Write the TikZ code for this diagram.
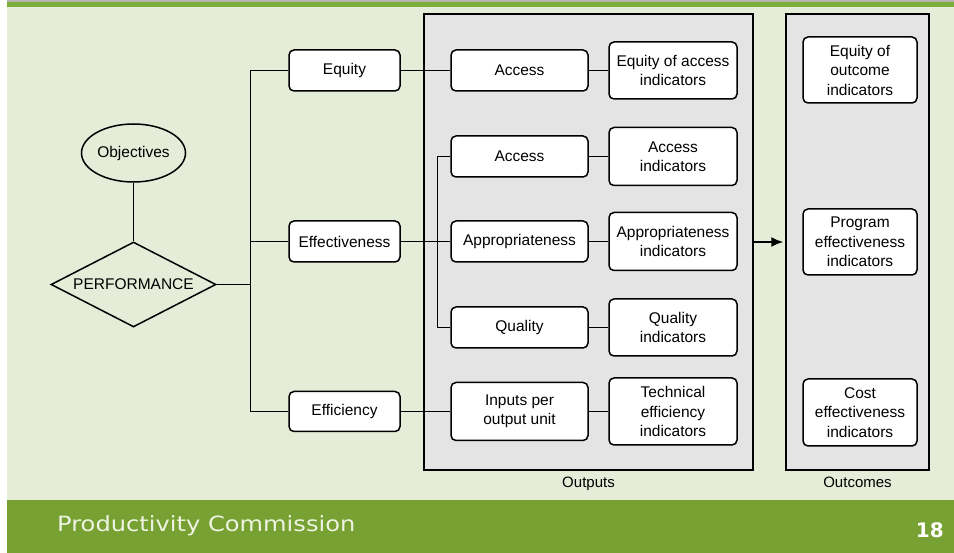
\documentclass[tikz,border=0pt]{standalone}
\usepackage{fontspec}
\setmainfont{Liberation Sans}
\newfontfamily\footfont[FakeStretch=1.15]{DejaVu Sans}
\newfontfamily\pagefont{DejaVu Sans}
\usetikzlibrary{shapes.geometric,arrows.meta}
\definecolor{bg}{HTML}{E5ECD7}
\definecolor{panelgray}{HTML}{E4E4E4}
\definecolor{footgreen}{HTML}{77A132}
\definecolor{bandgreen}{HTML}{7CAE3C}
\definecolor{bandgray}{HTML}{B4B6AE}
\definecolor{foottext}{HTML}{EEF3E2}

\begin{document}
\begin{tikzpicture}[x=1pt,y=-1pt,
  box/.style={draw, line width=1.5pt, fill=white, rounded corners=5pt,
    align=center, inner sep=0pt, font=\fontsize{15.5}{19.5}\selectfont},
  panel/.style={draw, line width=1.5pt, fill=panelgray, inner sep=0pt},
  link/.style={line width=1.6pt},
  caption/.style={font=\fontsize{15}{17}\selectfont, inner sep=0pt}
]
\useasboundingbox (0,0) rectangle (954,553);

% page background, header band and footer bar
\fill[white] (0,0) rectangle (954,553);
\fill[bg] (7,7) rectangle (954,500);
\fill[bandgray] (7,0) rectangle (954,2);
\fill[bandgreen] (7,2) rectangle (954,7);
\fill[footgreen] (7,500) rectangle (954,553);

% grey panels
\node[panel, minimum width=329pt, minimum height=456pt] (outp) at (588.5,242) {};
\node[panel, minimum width=143pt, minimum height=456pt] (outc) at (857.5,242) {};
\node[caption] (outplbl) at (588.5,484) {Outputs};
\node[caption] (outclbl) at (857.5,482) {Outcomes};

% objectives and performance
\node[draw, line width=1.5pt, ellipse, minimum width=104pt, minimum height=58pt,
  inner sep=0pt, font=\fontsize{15.5}{17}\selectfont] (obj) at (133.5,153) {Objectives};
\node[draw, line width=1.5pt, diamond, aspect=2, minimum width=165pt, minimum height=85pt,
  inner sep=0pt, font=\fontsize{15.5}{17}\selectfont] (perf) at (133.5,284.5) {PERFORMANCE};

% dimensions
\node[box, minimum width=111pt, minimum height=41pt] (equity) at (344.5,70.5) {Equity};
\node[box, minimum width=111pt, minimum height=41pt] (effect) at (344.5,241.5) {Effectiveness};
\node[box, minimum width=111pt, minimum height=40pt] (effic) at (344.5,411.5) {Efficiency};

% output measures
\node[box, minimum width=137pt, minimum height=41pt] (acc1) at (519.5,70.5) {Access};
\node[box, minimum width=137pt, minimum height=41pt] (acc2) at (519.5,156.5) {Access};
\node[box, minimum width=137pt, minimum height=41pt] (appr) at (519.5,241.5) {Appropriateness};
\node[box, minimum width=137pt, minimum height=41pt] (qual) at (519.5,327.5) {Quality};
\node[box, minimum width=137pt, minimum height=58pt] (inpt) at (519.5,411.5) {Inputs per\\output unit};

% output indicators
\node[box, minimum width=128pt, minimum height=57pt] (eqacc) at (673,70.5) {Equity of access\\indicators};
\node[box, minimum width=128pt, minimum height=58pt] (accind) at (673,156.5) {Access\\indicators};
\node[box, minimum width=128pt, minimum height=58pt] (apprind) at (673,241.5) {Appropriateness\\indicators};
\node[box, minimum width=128pt, minimum height=57pt] (qualind) at (673,327.5) {Quality\\indicators};
\node[box, minimum width=128pt, minimum height=67pt] (techind) at (673,411.5) {Technical\\efficiency\\indicators};

% outcome indicators
\node[box, minimum width=114pt, minimum height=66pt] (eqout) at (860,70) {Equity of\\outcome\\indicators};
\node[box, minimum width=114pt, minimum height=66pt] (progeff) at (860,242) {Program\\effectiveness\\indicators};
\node[box, minimum width=114pt, minimum height=67pt] (costeff) at (860,412.5) {Cost\\effectiveness\\indicators};

% junction points
\coordinate (trunk) at (250.5,284.5);
\coordinate (inner) at (437.5,241.5);

% connectors
\draw[link] (obj.south) -- (perf.north);
\draw[link] (perf.east) -- (trunk);
\draw[link] (equity.west) -| (trunk) |- (effic.west);
\draw[link] (effect.west) -- (effect.west -| trunk);
\draw[link] (equity.east) -- (acc1.west);
\draw[link] (effect.east) -- (appr.west);
\draw[link] (effic.east) -- (inpt.west);
\draw[link] (acc2.west) -| (inner) |- (qual.west);
\draw[link] (acc1.east) -- (eqacc.west);
\draw[link] (acc2.east) -- (accind.west);
\draw[link] (appr.east) -- (apprind.west);
\draw[link] (qual.east) -- (qualind.west);
\draw[link] (inpt.east) -- (techind.west);
\draw[link, -{Latex[length=12pt,width=10pt]}, shorten >=2pt] (outp.east) -- (outc.west);

% footer texts
\node[anchor=base west, text=foottext, inner sep=0pt,
  font=\footfont\fontsize{21}{24}\selectfont] (org) at (57,531) {Productivity Commission};
\node[anchor=base east, text=white, inner sep=0pt,
  font=\pagefont\bfseries\fontsize{20}{24}\selectfont] (pg) at (944,537) {18};
\end{tikzpicture}
\end{document}
